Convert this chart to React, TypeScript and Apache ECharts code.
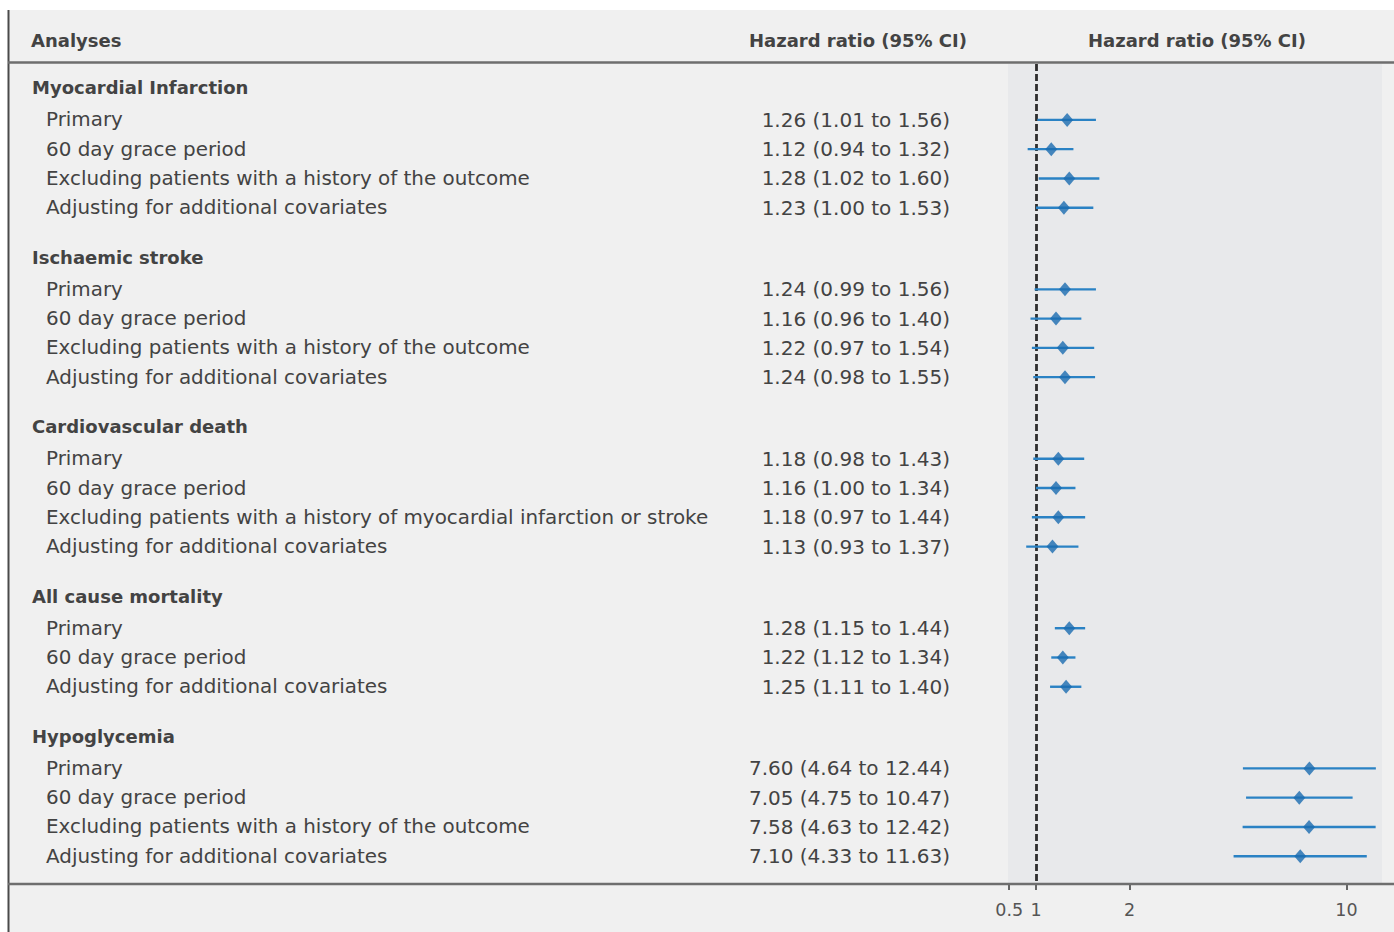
import React, { useEffect, useRef } from 'react';
import * as echarts from 'echarts';

// ---- data ----
const groupNames = [
  'Myocardial Infarction',
  'Ischaemic stroke',
  'Cardiovascular death',
  'All cause mortality',
  'Hypoglycemia',
];
const rowGroup = [0, 0, 0, 0, 1, 1, 1, 1, 2, 2, 2, 2, 3, 3, 3, 4, 4, 4, 4];
const rowLabels = [
  'Primary',
  '60 day grace period',
  'Excluding patients with a history of the outcome',
  'Adjusting for additional covariates',
  'Primary',
  '60 day grace period',
  'Excluding patients with a history of the outcome',
  'Adjusting for additional covariates',
  'Primary',
  '60 day grace period',
  'Excluding patients with a history of myocardial infarction or stroke',
  'Adjusting for additional covariates',
  'Primary',
  '60 day grace period',
  'Adjusting for additional covariates',
  'Primary',
  '60 day grace period',
  'Excluding patients with a history of the outcome',
  'Adjusting for additional covariates',
];
const hrValues = [1.26, 1.12, 1.28, 1.23, 1.24, 1.16, 1.22, 1.24, 1.18, 1.16, 1.18, 1.13, 1.28, 1.22, 1.25, 7.6, 7.05, 7.58, 7.1];
const ciLower = [1.01, 0.94, 1.02, 1.0, 0.99, 0.96, 0.97, 0.98, 0.98, 1.0, 0.97, 0.93, 1.15, 1.12, 1.11, 4.64, 4.75, 4.63, 4.33];
const ciUpper = [1.56, 1.32, 1.6, 1.53, 1.56, 1.4, 1.54, 1.55, 1.43, 1.34, 1.44, 1.37, 1.44, 1.34, 1.4, 12.44, 10.47, 12.42, 11.63];
const tickAt = [0.82, 1, 2, 10];
const tickLabels = ['0.5', '1', '2', '10'];
const headerTitles = ['Analyses', 'Hazard ratio (95% CI)', 'Hazard ratio (95% CI)'];

// ---- layout helpers ----
const FONT = '"DejaVu Sans", "Noto Sans", sans-serif';
const TEXT = '#434343';
const HEADER_TO_ITEM = 1.09;
const GROUP_GAP = 1.7;

type Row = { header: boolean; label: string; hrText?: string; pos: number; i?: number };
const rows: Row[] = [];
(() => {
  let p = 0;
  groupNames.forEach((g, gi) => {
    rows.push({ header: true, label: g, pos: p });
    let q = p + HEADER_TO_ITEM;
    let last = q;
    rowGroup.forEach((rg, i) => {
      if (rg !== gi) return;
      rows.push({
        header: false,
        label: rowLabels[i],
        hrText: `${hrValues[i].toFixed(2)} (${ciLower[i].toFixed(2)} to ${ciUpper[i].toFixed(2)})`,
        pos: q,
        i,
      });
      last = q;
      q += 1;
    });
    p = last + GROUP_GAP;
  });
})();
const itemRows = rows.filter((r) => !r.header);
const lg = (v: number) => Math.log10(v);

const boldStyle = { fontFamily: FONT, fontWeight: 'bold', fontSize: 18, fill: TEXT, verticalAlign: 'middle' };
const regStyle = { fontFamily: FONT, fontSize: 19.9, fill: TEXT, verticalAlign: 'middle' };

function buildOption(): any {
  const textData = rows.map((r, idx) => [0, r.pos, idx]);
  const ciData = itemRows.map((r) => [lg(ciLower[r.i!]), lg(ciUpper[r.i!]), r.pos]);
  const ptData = itemRows.map((r) => [lg(hrValues[r.i!]), r.pos]);
  const tickVals = tickAt.map(lg);

  return {
    animation: false,
    backgroundColor: '#f0f0f0',
    grid: {
      left: 1008,
      width: 374,
      top: 64,
      height: 820,
      show: true,
      backgroundColor: '#e8e9eb',
      borderWidth: 0,
      containLabel: false,
    },
    xAxis: {
      type: 'value',
      position: 'bottom',
      min: lg(0.8125),
      max: lg(13.02),
      splitLine: { show: false },
      axisLine: { show: false, onZero: false },
      axisTick: {
        show: true,
        customValues: tickVals,
        length: 6,
        lineStyle: { color: '#666', width: 2 },
      },
      axisLabel: {
        show: true,
        customValues: tickVals,
        margin: 17,
        fontSize: 17.5,
        fontFamily: FONT,
        color: '#555',
        formatter: (v: number) => {
          let best = 0;
          tickVals.forEach((t, k) => {
            if (Math.abs(t - v) < Math.abs(tickVals[best] - v)) best = k;
          });
          return tickLabels[best];
        },
      },
    },
    yAxis: {
      type: 'value',
      inverse: true,
      min: -0.82,
      max: 27.2,
      show: false,
      axisLine: { onZero: false },
    },
    graphic: [
      { type: 'rect', shape: { x: 0, y: 0, width: 1394, height: 10 }, style: { fill: '#ffffff' }, silent: true },
      { type: 'rect', shape: { x: 0, y: 0, width: 8, height: 932 }, style: { fill: '#ffffff' }, silent: true },
      { type: 'line', shape: { x1: 8.5, y1: 10, x2: 8.5, y2: 932 }, style: { stroke: '#4a4a4a', lineWidth: 2 }, silent: true },
      { type: 'line', shape: { x1: 8, y1: 62.5, x2: 1394, y2: 62.5 }, style: { stroke: '#6e6e6e', lineWidth: 2.5 }, silent: true },
      { type: 'line', shape: { x1: 8, y1: 884, x2: 1394, y2: 884 }, style: { stroke: '#6e6e6e', lineWidth: 2.5 }, silent: true, z: 10 },
      { type: 'text', style: { ...boldStyle, x: 31, y: 40, text: headerTitles[0], align: 'left' } },
      { type: 'text', style: { ...boldStyle, x: 858, y: 40, text: headerTitles[1], align: 'center' } },
      { type: 'text', style: { ...boldStyle, x: 1197, y: 40, text: headerTitles[2], align: 'center' } },
    ],
    series: [
      {
        type: 'custom',
        name: 'labels',
        clip: false,
        silent: true,
        encode: { x: 0, y: 1 },
        data: textData,
        renderItem: (params: any, api: any) => {
          const row = rows[api.value(2)];
          const y = api.coord([0, api.value(1)])[1];
          if (row.header) {
            return {
              type: 'text',
              style: { ...boldStyle, x: 32, y, text: row.label, align: 'left' },
            };
          }
          return {
            type: 'group',
            children: [
              { type: 'text', style: { ...regStyle, x: 46, y, text: row.label, align: 'left' } },
              { type: 'text', style: { ...regStyle, fontSize: 20, x: 950, y, text: row.hrText, align: 'right' } },
            ],
          };
        },
      },
      {
        type: 'custom',
        name: 'ci',
        clip: false,
        silent: true,
        encode: { x: [0, 1], y: 2 },
        data: ciData,
        z: 3,
        renderItem: (params: any, api: any) => {
          const p1 = api.coord([api.value(0), api.value(2)]);
          const p2 = api.coord([api.value(1), api.value(2)]);
          return {
            type: 'line',
            shape: { x1: p1[0], y1: p1[1], x2: p2[0], y2: p2[1] },
            style: { stroke: '#2a82c4', lineWidth: 2.4 },
          };
        },
      },
      {
        type: 'scatter',
        name: 'hr',
        data: ptData,
        symbol: 'diamond',
        symbolSize: [12, 14],
        itemStyle: { color: '#1a6bb0' },
        silent: true,
        z: 4,
        markLine: {
          silent: true,
          symbol: 'none',
          label: { show: false },
          lineStyle: { color: '#2e2e2e', width: 2.8, type: [7, 3] },
          data: [{ xAxis: 0 }],
          z: 2,
        },
      },
    ],
  };
}

export default function App() {
  const ref = useRef<HTMLDivElement>(null);
  useEffect(() => {
    document.body.style.margin = '0';
    document.body.style.overflow = 'hidden';
    const chart = echarts.init(ref.current!, null, { renderer: 'svg' });
    chart.setOption(buildOption());
    return () => chart.dispose();
  }, []);
  return <div ref={ref} style={{ width: 1394, height: 932 }} />;
}
